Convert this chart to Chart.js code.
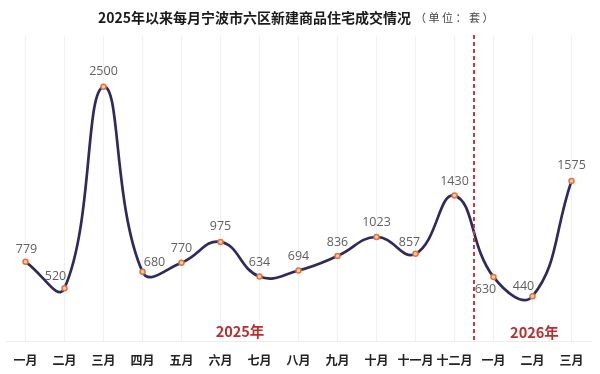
<!DOCTYPE html>
<html>
<head>
<meta charset="utf-8">
<script src="https://cdn.jsdelivr.net/npm/chart.js@4/dist/chart.umd.min.js"></script>
<style>
  html, body { margin: 0; padding: 0; background: #fff; }
  #wrap { width: 600px; height: 374px; position: relative; }
</style>
</head>
<body>
<div id="wrap"><canvas id="myChart"></canvas></div>
<script>
const months = ['一月', '二月', '三月', '四月', '五月', '六月', '七月', '八月', '九月', '十月', '十一月', '十二月', '一月', '二月', '三月'];
const sales = [779, 520, 2500, 680, 770, 975, 634, 694, 836, 1023, 857, 1430, 630, 440, 1575];
const yearLabels = ['2025年', '2026年'];
const titleMain = '2025年以来每月宁波市六区新建商品住宅成交情况';
const titleUnit = '（单位：套）';

// where each value label sits relative to its point (dx, dy)
const labelOffsets = [
    [1, -12], [-9, -12], [0, -15], [12, -9], [0, -14], [0, -15], [0, -14], [0, -14],
    [0, -14], [0, -15], [-6, -11], [0, -14], [-8, 12], [-9, -10], [0, -15]
];

const cjk = '"Noto Sans CJK SC", "Noto Sans", sans-serif';

const extrasPlugin = {
    id: 'extras',
    afterDraw(chart) {
        const ctx = chart.ctx;
        const area = chart.chartArea;
        const x = chart.scales.x;

        // title, two parts
        ctx.save();
        ctx.textBaseline = 'middle';
        ctx.textAlign = 'left';
        ctx.font = 'bold 14px ' + cjk;
        const w1 = ctx.measureText(titleMain).width;
        ctx.font = '11px ' + cjk;
        ctx.letterSpacing = '2.5px';
        const w2 = ctx.measureText(titleUnit).width;
        let tx = 297 - (w1 + 4 + w2) / 2;
        ctx.letterSpacing = '0px';
        ctx.font = 'bold 14px ' + cjk;
        ctx.fillStyle = '#1a1a1a';
        ctx.fillText(titleMain, tx, 18);
        ctx.font = '11px ' + cjk;
        ctx.letterSpacing = '2.5px';
        ctx.fillStyle = '#444';
        ctx.fillText(titleUnit, tx + w1 + 4, 18);
        ctx.restore();

        // dashed year divider
        const dx = x.getPixelForValue(11.5);
        ctx.save();
        ctx.strokeStyle = '#c8393b';
        ctx.lineWidth = 2;
        ctx.setLineDash([4, 3]);
        ctx.beginPath();
        ctx.moveTo(dx, area.top - 1);
        ctx.lineTo(dx, area.bottom);
        ctx.stroke();
        ctx.restore();

        // year labels
        ctx.save();
        ctx.font = 'bold 14.5px ' + cjk;
        ctx.fillStyle = '#b5302f';
        ctx.textAlign = 'center';
        ctx.textBaseline = 'middle';
        ctx.fillText(yearLabels[0], x.getPixelForValue(5.5), area.bottom - 10);
        ctx.fillText(yearLabels[1], x.getPixelForValue(13.05), area.bottom - 9);
        ctx.restore();

        // value labels
        const meta = chart.getDatasetMeta(0);
        ctx.save();
        ctx.font = '12.5px "Open Sans", sans-serif';
        ctx.fillStyle = '#5f5f5f';
        ctx.textAlign = 'center';
        ctx.textBaseline = 'middle';
        meta.data.forEach((pt, i) => {
            const off = labelOffsets[i];
            ctx.fillText(String(sales[i]), pt.x + off[0], pt.y + off[1]);
        });
        ctx.restore();
    }
};

const ctx = document.getElementById('myChart').getContext('2d');
const salesChart = new Chart(ctx, {
    type: 'line',
    data: {
        labels: months,
        datasets: [{
            label: '成交套数',
            data: sales,
            borderColor: '#2e2a5c',
            borderWidth: 2.7,
            tension: 0.45,
            pointRadius: 2.5,
            pointBorderWidth: 1.5,
            pointBorderColor: '#e0743a',
            pointBackgroundColor: '#f7c9a6',
            fill: false
        }]
    },
    options: {
        responsive: true,
        maintainAspectRatio: false,
        animation: false,
        layout: {
            padding: { top: 36, right: 9, bottom: 6, left: 6 }
        },
        plugins: {
            legend: { display: false },
            tooltip: { enabled: false }
        },
        scales: {
            x: {
                offset: true,
                afterFit(scale) { scale.height = 27; },
                grid: {
                    color: '#f1f1f1',
                    drawTicks: false
                },
                border: { color: '#ececec' },
                ticks: {
                    autoSkip: false,
                    maxRotation: 0,
                    padding: 12,
                    color: '#222',
                    font: { family: cjk, size: 12, weight: 'bold' }
                }
            },
            y: {
                display: false,
                min: 0,
                max: 3000
            }
        }
    },
    plugins: [extrasPlugin]
});
</script>
</body>
</html>
